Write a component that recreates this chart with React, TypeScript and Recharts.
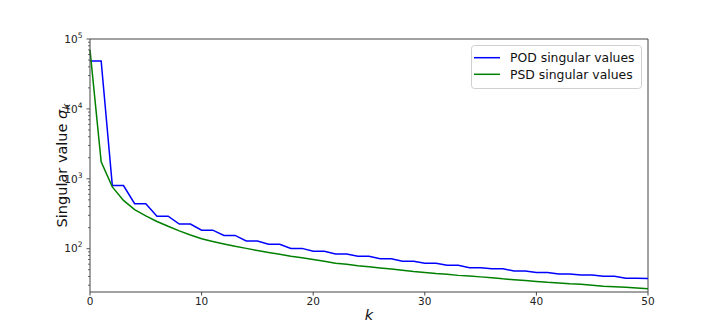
import React from 'react';
import { LineChart, Line, XAxis, YAxis, Legend, ReferenceLine } from 'recharts';

const kValues = [
  0, 1, 2, 3, 4, 5, 6, 7, 8, 9, 10, 11, 12, 13, 14, 15, 16, 17, 18, 19, 20,
  21, 22, 23, 24, 25, 26, 27, 28, 29, 30, 31, 32, 33, 34, 35, 36, 37, 38, 39, 40,
  41, 42, 43, 44, 45, 46, 47, 48, 49, 50,
];

const podValues = [
  48400, 48400, 800, 800, 440, 440, 292, 292, 225, 225, 184, 184, 155, 155, 129, 129,
  116, 116, 101, 101, 92, 92, 84, 84, 78, 78, 72, 72, 66, 66, 62, 62, 58, 58, 53.5, 53.5,
  51.5, 51.5, 48, 48, 45.5, 45.5, 43.4, 43.4, 42, 42, 40.2, 40.2, 37.7, 37.7, 37.3,
];

const psdValues = [
  70000, 1750, 766, 490, 363, 295, 245, 209, 180, 157, 139, 127, 117, 108, 101, 94,
  88, 83, 78, 74, 70, 66, 62, 60, 57, 55, 53, 51, 49, 47, 45.5, 44, 43, 41.5, 40.5, 39.5,
  38.5, 37, 36, 35, 34, 33, 32.3, 31.5, 31, 30, 29, 28.5, 28, 27.3, 26.8,
];

const xTicks = [0, 10, 20, 30, 40, 50];
const yMajorTicks = [100, 1000, 10000, 100000];
const yMinorTicks = [
  30, 40, 50, 60, 70, 80, 90,
  200, 300, 400, 500, 600, 700, 800, 900,
  2000, 3000, 4000, 5000, 6000, 7000, 8000, 9000,
  20000, 30000, 40000, 50000, 60000, 70000, 80000, 90000,
];
const seriesNames = ['POD singular values', 'PSD singular values'];
const seriesColors = ['#0000ff', '#008000'];

const data = kValues.map((k, i) => ({ k, pod: podValues[i], psd: psdValues[i] }));
const yTicks = [...yMinorTicks, ...yMajorTicks].sort((a, b) => a - b);

const FONT = 'DejaVu Sans, sans-serif';
const AXIS = '#444';

const YTick = (props: any) => {
  const { x, y, payload } = props;
  const v = payload.value as number;
  const exp = Math.round(Math.log10(v));
  const isMajor = yMajorTicks.includes(v);
  if (!isMajor) {
    return <line x1={x - 2} x2={x} y1={y} y2={y} stroke={AXIS} strokeWidth={0.8} />;
  }
  return (
    <g>
      <line x1={x - 3.5} x2={x} y1={y} y2={y} stroke={AXIS} strokeWidth={0.9} />
      <text x={x - 7.5} y={y + 3.8} textAnchor="end" fontSize={10.5} fill="#222" fontFamily={FONT}>
        10
        <tspan dy={-5} fontSize={7.5}>{exp}</tspan>
      </text>
    </g>
  );
};

const YLabel = (props: any) => {
  const vb = props.viewBox || { x: 30, y: 39, width: 60, height: 253 };
  const cx = vb.x + 37;
  const cy = vb.y + vb.height / 2;
  return (
    <text
      x={cx}
      y={cy}
      transform={`rotate(-90, ${cx}, ${cy})`}
      textAnchor="middle"
      fontSize={14.5}
      fill="#111"
      fontFamily={FONT}
    >
      Singular value <tspan fontStyle="italic">σ</tspan>
      <tspan fontStyle="italic" fontSize={10.5} dy={3}>k</tspan>
    </text>
  );
};

const XLabel = (props: any) => {
  const vb = props.viewBox || { x: 90, y: 292, width: 558, height: 36 };
  return (
    <text
      x={vb.x + vb.width / 2}
      y={vb.y + 28}
      textAnchor="middle"
      fontSize={14.5}
      fontStyle="italic"
      fill="#111"
      fontFamily={FONT}
    >
      k
    </text>
  );
};

const LegendBox = () => (
  <svg width={172} height={45} style={{ display: 'block' }}>
    <rect x={0.5} y={0.5} width={170} height={43} rx={3} ry={3} fill="#fff" fillOpacity={0.8} stroke="#d0d0d0" strokeWidth={1} />
    {seriesNames.map((name, i) => (
      <g key={name}>
        <line x1={3} x2={29} y1={12.7 + i * 16.6} y2={12.7 + i * 16.6} stroke={seriesColors[i]} strokeWidth={1.5} />
        <text x={39} y={12.7 + i * 16.6 + 4.5} fontSize={12.4} fill="#111" fontFamily={FONT}>
          {name}
        </text>
      </g>
    ))}
  </svg>
);

export default function App() {
  return (
    <div style={{ position: 'absolute', left: 0, top: 0, width: 720, height: 328, background: '#fff' }}>
      <LineChart
        width={720}
        height={328}
        data={data}
        margin={{ top: 39, right: 72, bottom: 0, left: 30 }}
        style={{ fontFamily: FONT }}
      >
        <XAxis
          dataKey="k"
          type="number"
          domain={[0, 50]}
          ticks={xTicks}
          interval={0}
          height={36}
          stroke={AXIS}
          tickSize={3.5}
          tickMargin={2}
          tick={{ fontSize: 10.5, fill: '#222', fontFamily: FONT }}
          label={<XLabel />}
        />
        <YAxis
          type="number"
          scale="log"
          domain={[24, 100000]}
          allowDataOverflow
          ticks={yTicks}
          interval={0}
          width={60}
          stroke={AXIS}
          tickLine={false}
          tickSize={0}
          tickMargin={0}
          tick={<YTick />}
          label={<YLabel />}
        />
        <ReferenceLine y={100000} stroke={AXIS} strokeWidth={1} />
        <ReferenceLine x={50} stroke={AXIS} strokeWidth={1} />
        <Line
          type="linear"
          dataKey="pod"
          name={seriesNames[0]}
          stroke={seriesColors[0]}
          strokeWidth={1.5}
          dot={false}
          isAnimationActive={false}
        />
        <Line
          type="linear"
          dataKey="psd"
          name={seriesNames[1]}
          stroke={seriesColors[1]}
          strokeWidth={1.5}
          dot={false}
          isAnimationActive={false}
        />
        <Legend
          layout="vertical"
          align="center"
          verticalAlign="middle"
          wrapperStyle={{ position: 'absolute', left: 471, top: 44.5, width: 172, height: 45 }}
          content={() => <LegendBox />}
        />
      </LineChart>
    </div>
  );
}
